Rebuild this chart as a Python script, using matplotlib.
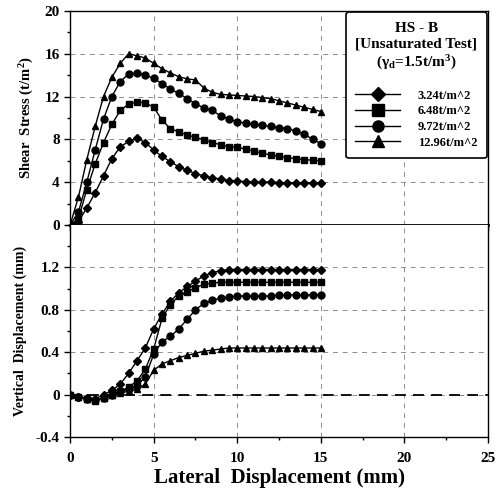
import numpy as np
import matplotlib
matplotlib.use("Agg")
import matplotlib.pyplot as plt
from matplotlib.ticker import MultipleLocator

plt.rcParams['font.family'] = ['Liberation Serif', 'DejaVu Serif']
plt.rcParams['font.weight'] = 'bold'
plt.rcParams['mathtext.fontset'] = 'custom'
plt.rcParams['mathtext.rm'] = 'Liberation Serif:bold'
plt.rcParams['mathtext.it'] = 'Liberation Serif:bold'

# lateral displacement (mm)
lateral = [0, 0.5, 1, 1.5, 2, 2.5, 3, 3.5, 4, 4.5, 5, 5.5, 6, 6.5, 7, 7.5,
           8, 8.5, 9, 9.5, 10, 10.5, 11, 11.5, 12, 12.5, 13, 13.5, 14, 14.5, 15]

labels = ['3.24t/m^2', '6.48t/m^2', '9.72t/m^2', '12.96t/m^2']
markers = ['D', 's', 'o', '^']

# shear stress (t/m^2)
shear_324 = [0, 0.3, 1.6, 3.0, 4.6, 6.2, 7.3, 7.8, 8.1, 7.7, 7.0, 6.4, 5.9, 5.45, 5.1, 4.8,
             4.6, 4.4, 4.3, 4.15, 4.1, 4.05, 4.0, 4.0, 4.0, 3.95, 3.95, 3.95, 3.95, 3.95, 3.95]
shear_648 = [0, 0.6, 3.3, 5.7, 7.7, 9.4, 10.7, 11.3, 11.5, 11.4, 11.0, 9.8, 9.0, 8.7, 8.4, 8.2,
             7.95, 7.7, 7.5, 7.3, 7.25, 7.1, 6.9, 6.7, 6.55, 6.4, 6.3, 6.2, 6.1, 6.05, 6.0]
shear_972 = [0, 1.2, 4.0, 7.0, 9.9, 12.0, 13.4, 14.1, 14.2, 14.0, 13.7, 13.2, 12.7, 12.3, 11.8, 11.3,
             10.95, 10.7, 10.2, 9.9, 9.65, 9.5, 9.4, 9.3, 9.2, 9.1, 9.0, 8.8, 8.5, 8.0, 7.6]
shear_1296 = [0, 2.6, 6.1, 9.2, 12.0, 13.8, 15.1, 16.0, 15.8, 15.6, 15.1, 14.6, 14.2, 13.85, 13.65, 13.55,
              12.8, 12.4, 12.2, 12.15, 12.1, 12.05, 12.0, 11.9, 11.8, 11.6, 11.4, 11.2, 11.0, 10.8, 10.6]

# vertical displacement (mm)
vert_324 = [0, -0.02, -0.03, -0.04, 0.0, 0.04, 0.10, 0.20, 0.32, 0.44, 0.62, 0.76, 0.88, 0.96, 1.02, 1.07,
            1.12, 1.15, 1.17, 1.18, 1.18, 1.18, 1.18, 1.18, 1.18, 1.18, 1.18, 1.18, 1.18, 1.18, 1.18]
vert_648 = [0, -0.02, -0.04, -0.06, -0.03, 0.0, 0.03, 0.07, 0.13, 0.24, 0.43, 0.72, 0.85, 0.93, 0.97, 1.01,
            1.04, 1.05, 1.06, 1.06, 1.06, 1.06, 1.06, 1.06, 1.06, 1.06, 1.06, 1.06, 1.06, 1.06, 1.06]
vert_972 = [0, -0.02, -0.04, -0.05, -0.03, 0.0, 0.03, 0.05, 0.08, 0.17, 0.38, 0.50, 0.55, 0.62, 0.71, 0.80,
            0.86, 0.89, 0.91, 0.92, 0.93, 0.93, 0.93, 0.93, 0.93, 0.94, 0.94, 0.94, 0.94, 0.94, 0.94]
vert_1296 = [0, -0.02, -0.04, -0.05, -0.03, 0.0, 0.02, 0.03, 0.05, 0.10, 0.23, 0.29, 0.32, 0.35, 0.37, 0.39,
             0.41, 0.42, 0.43, 0.44, 0.44, 0.44, 0.44, 0.44, 0.44, 0.44, 0.44, 0.44, 0.44, 0.44, 0.44]

shear = [shear_324, shear_648, shear_972, shear_1296]
vert = [vert_324, vert_648, vert_972, vert_1296]

fig = plt.figure(figsize=(4.97, 4.95), dpi=100)
ax1 = fig.add_axes([0.141, 0.5455, 0.841, 0.4325])
ax2 = fig.add_axes([0.141, 0.117, 0.841, 0.4285])

grid_kw = dict(color='0.55', linestyle=(0, (5, 5)), linewidth=0.7)

for ax in (ax1, ax2):
    ax.set_xlim(0, 25)
    ax.xaxis.set_major_locator(MultipleLocator(5))
    ax.xaxis.set_minor_locator(MultipleLocator(2.5))
    ax.grid(True, which='major', **grid_kw)
    ax.set_axisbelow(True)
    for s in ax.spines.values():
        s.set_linewidth(1.0)
    ax.tick_params(which='both', direction='out', width=1.0)
    ax.tick_params(which='major', length=4, labelsize=11)
    ax.tick_params(which='minor', length=2.5)

for ys, m, lab in zip(shear, markers, labels):
    ax1.plot(lateral, ys, color='black', marker=m, markersize=4.5 if m == 'D' else 5,
             linewidth=1.0, label=lab)
ax1.set_ylim(0, 20)
ax1.yaxis.set_major_locator(MultipleLocator(4))
ax1.yaxis.set_minor_locator(MultipleLocator(2))
ax1.tick_params(axis='x', labelbottom=False)
ax1.spines['bottom'].set_linewidth(2.0)
ax1.set_ylabel('Shear  Stress (t/m$^2$)', fontsize=10.5, fontweight='bold', labelpad=6)

leg = ax1.legend(title='HS - B\n[Unsaturated Test]\n($\\gamma_d$=1.5t/m$^3$)',
                 loc='upper right', bbox_to_anchor=(1.0, 1.0), borderaxespad=0.1,
                 fontsize=9, title_fontsize=11, handlelength=3.6, handletextpad=1.4,
                 markerscale=1.6, labelspacing=0.3, borderpad=0.75, fancybox=True,
                 framealpha=1, edgecolor='black')
leg.get_frame().set_linewidth(1.2)
leg.get_title().set_fontweight('bold')
leg.get_title().set_multialignment('center')
leg.get_title().set_linespacing(1.25)
leg._legend_box.sep = 13

for ys, m, lab in zip(vert, markers, labels):
    ax2.plot(lateral, ys, color='black', marker=m, markersize=4.5 if m == 'D' else 5,
             linewidth=1.0, label=lab)
ax2.axhline(0, color='black', linestyle=(0, (6, 4)), linewidth=1.3, zorder=1)
ax2.set_ylim(-0.4, 1.6)
ax2.set_yticks([-0.4, 0, 0.4, 0.8, 1.2])
ax2.set_yticklabels(['-0.4', '0', '0.4', '0.8', '1.2'])
ax2.yaxis.set_minor_locator(MultipleLocator(0.2))
ax2.spines['top'].set_visible(False)
ax2.set_ylabel('Vertical  Displacement (mm)', fontsize=10, fontweight='bold', labelpad=6)
ax2.set_xlabel('Lateral  Displacement (mm)', fontsize=15, fontweight='bold', labelpad=2)
ax2.tick_params(axis='x', pad=7)

fig.savefig('out.png', dpi=100)
